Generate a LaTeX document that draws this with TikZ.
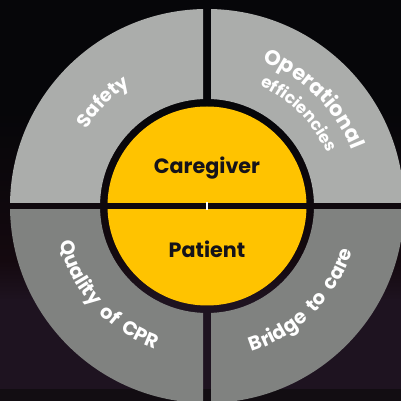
\documentclass[tikz,border=0pt]{standalone}
\usepackage{fontspec}
\setmainfont{Poppins}
\usetikzlibrary{decorations.text}
\definecolor{bgtop}{HTML}{060609}
\definecolor{bgmid}{HTML}{14090F}
\definecolor{bglow}{HTML}{1E1320}
\definecolor{bgend}{HTML}{120D12}
\definecolor{qtop}{HTML}{ABADAB}
\definecolor{qlow}{HTML}{808280}
\definecolor{hub}{HTML}{FFC300}
\definecolor{ink}{HTML}{15131A}
\tikzset{
  arctext/.style={decorate,decoration={text along path,text align=center,text={#1}}},
}
\newcommand{\lblsafe}{\color{white}\bfseries\fontsize{19}{19}\selectfont}
\newcommand{\lblop}{\color{white}\bfseries\fontsize{21}{21}\selectfont}
\newcommand{\lbleff}{\color{white}\bfseries\fontsize{16.5}{17}\selectfont}
\newcommand{\lblbig}{\color{white}\bfseries\fontsize{19.5}{20}\selectfont}
\begin{document}
\begin{tikzpicture}[x=1pt,y=1pt]
\useasboundingbox (0,0) rectangle (401,401);
\fill[bgtop] (0,401) rectangle (401,290);
\shade[top color=bgtop,bottom color=bgmid] (0,291) rectangle (401,140);
\shade[top color=bgmid,bottom color=bglow] (0,141) rectangle (401,100);
\shade[top color=bglow,bottom color=bglow] (0,101) rectangle (401,12);
\fill[bgend] (0,12) rectangle (401,0);
\coordinate (c) at (207,195);
% quadrants
\begin{scope}
\clip (0,198.7) rectangle (203,401);
\fill[qtop,even odd rule] (c) circle (197) (c) circle (107);
\end{scope}
\begin{scope}
\clip (211,198.7) rectangle (401,401);
\fill[qtop,even odd rule] (c) circle (197) (c) circle (107);
\end{scope}
\begin{scope}
\clip (0,191) rectangle (203,0);
\fill[qlow,even odd rule] (c) circle (197) (c) circle (107);
\end{scope}
\begin{scope}
\clip (211,191) rectangle (401,0);
\fill[qlow,even odd rule] (c) circle (197) (c) circle (107);
\end{scope}
% hub
\begin{scope}
\clip (0,198.7) rectangle (401,401);
\fill[hub] (c) circle (99.5);
\end{scope}
\begin{scope}
\clip (0,191) rectangle (401,0);
\fill[hub] (c) circle (99.5);
\end{scope}
\fill[white] (206.2,191) rectangle (207.5,198.7);
\node[ink,font=\bfseries\fontsize{20.7}{21}\selectfont,anchor=base] (care) at (207,227.5) {Caregiver};
\node[ink,font=\bfseries\fontsize{20.7}{21}\selectfont,anchor=base] (pat) at (207,143.5) {Patient};
% curved labels
\path[arctext={|\lblsafe|Safety}] ([shift={(165:143)}]c) arc (165:105:143);
\path[arctext={|\lblop|Operational}] ([shift={(90:155)}]c) arc (90:0:155);
\path[arctext={|\lbleff|efficiencies}] ([shift={(90:131)}]c) arc (90:0:131);
\path[arctext={|\lblbig|Quality{\ \ }of{\ \ }CPR}] ([shift={(177:152)}]c) arc (177:267:152);
\path[arctext={|\lblbig|Bridge{\ \ }to{\ \ }care}] ([shift={(-90:152)}]c) arc (-90:0:152);
\end{tikzpicture}
\end{document}
